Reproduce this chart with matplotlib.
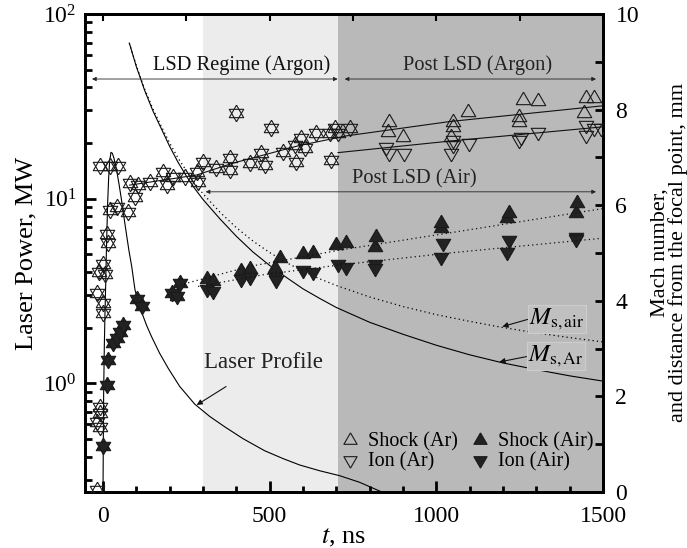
import numpy as np
import matplotlib
matplotlib.use('Agg')
import matplotlib.pyplot as plt
from matplotlib.ticker import LogLocator, MultipleLocator, LogFormatterMathtext, NullFormatter
from matplotlib.lines import Line2D

plt.rcParams['font.family'] = ['Liberation Serif', 'DejaVu Serif']
plt.rcParams['mathtext.fontset'] = 'stix'

# ---------------- data ----------------
# laser profile (left axis, MW)
laser_t = [0, 1, 2, 4, 6, 8, 10, 12, 14, 17, 20, 24, 28, 33, 41, 48, 56, 63, 71, 78, 86, 96, 106, 116,
           131, 146, 170, 196, 230, 275, 320, 365, 420, 485, 540, 590, 650, 710, 770, 830, 880]
laser_p = [0.25, 0.5, 0.9, 1.6, 2.4, 3.4, 5.0, 7.0, 9.5, 13.0, 16.0, 17.8, 17.6, 16.5, 14.2, 12.0, 9.7,
           7.9, 6.3, 5.2, 4.3, 3.2, 2.75, 2.42, 2.05, 1.78, 1.45, 1.2, 0.96, 0.77, 0.66, 0.58, 0.5,
           0.43, 0.39, 0.36, 0.335, 0.315, 0.29, 0.26, 0.24]

# Mach number curves (right axis)
mach_ar_t = [79, 100, 125, 150, 175, 200, 225, 250, 275, 300, 350, 400, 450, 500, 550, 600, 650, 700,
             800, 900, 1000, 1100, 1200, 1300, 1400, 1500]
mach_ar = [9.39, 8.90, 8.40, 7.97, 7.60, 7.23, 6.90, 6.61, 6.35, 6.12, 5.72, 5.35, 5.02, 4.74, 4.49,
           4.25, 4.05, 3.86, 3.55, 3.30, 3.07, 2.87, 2.70, 2.56, 2.43, 2.32]
mach_air_t = [79, 100, 125, 150, 175, 200, 225, 250, 275, 300, 350, 400, 450, 500, 550, 600, 650, 700,
              800, 900, 1000, 1100, 1200, 1300, 1400, 1500]
mach_air = [9.39, 8.92, 8.43, 8.01, 7.65, 7.30, 6.99, 6.72, 6.46, 6.24, 5.86, 5.53, 5.25, 5.01, 4.80,
            4.62, 4.46, 4.32, 4.08, 3.88, 3.71, 3.57, 3.44, 3.33, 3.23, 3.14]

# Argon, LSD regime: shock and ion front coincide (mm)
lsd_ar_t = [-19, -9, -19, -9, -9, 1, 1, -19, -12, 6, 1, 11, 16, 21, 41, -9, 20, 44, 76, 81, 96, 106,
            141, 181, 191, 211, 246, 281, 286, 300, 340, 380, 380, 400, 440, 475, 485, 505, 540, 575,
            580, 595, 605, 640, 680, 685, 695, 705, 740]
lsd_ar_x = [0.04, 1.37, 1.47, 1.65, 1.78, 3.74, 3.95, 4.16, 4.60, 4.57, 4.78, 5.40, 5.20, 5.90, 5.97,
            6.81, 6.81, 6.81, 5.86, 6.46, 6.18, 6.42, 6.49, 6.70, 6.42, 6.60, 6.60, 6.70, 6.49, 6.91,
            6.77, 6.98, 6.74, 7.92, 6.88, 7.09, 6.84, 7.61, 7.12, 7.26, 6.91, 7.40, 7.19, 7.50, 7.50,
            6.95, 7.61, 7.50, 7.61]

# Argon, post LSD
shock_ar_t = [854, 859, 899, 1044, 1049, 1049, 1094, 1249, 1249, 1259, 1304, 1443, 1448, 1473]
shock_ar_x = [7.54, 7.75, 7.43, 7.43, 7.64, 7.75, 7.96, 7.75, 7.85, 8.20, 8.17, 7.92, 8.24, 8.24]
ion_ar_t = [849, 859, 904, 1044, 1049, 1049, 1099, 1249, 1254, 1304, 1448, 1448, 1473, 1495]
ion_ar_x = [7.22, 7.09, 7.09, 7.09, 7.26, 7.36, 7.30, 7.36, 7.43, 7.54, 7.68, 7.47, 7.61, 7.61]

# Air, LSD regime: shock and ion front coincide
lsd_air_t = [1, 11, 16, 31, 41, 51, 61, 103, 118, 206, 221, 231]
lsd_air_x = [0.96, 2.23, 2.76, 3.11, 3.22, 3.35, 3.49, 4.04, 3.90, 4.16, 4.09, 4.37]

# Air, post LSD
shock_air_t = [311, 330, 415, 440, 515, 530, 600, 630, 700, 730, 815, 820, 1014, 1014, 1213, 1218, 1418, 1423]
shock_air_x = [4.45, 4.42, 4.62, 4.66, 4.68, 4.90, 4.98, 4.99, 5.17, 5.20, 5.13, 5.34, 5.52, 5.62, 5.73, 5.83, 5.83, 6.04]
ion_air_t = [311, 330, 415, 440, 515, 520, 600, 630, 705, 730, 815, 815, 1014, 1019, 1213, 1218, 1418, 1420]
ion_air_x = [4.25, 4.20, 4.45, 4.50, 4.50, 4.43, 4.64, 4.61, 4.78, 4.71, 4.78, 4.68, 4.92, 5.20, 5.03, 5.27, 5.34, 5.30]

# fitted trend lines
fit_shock_ar_t = [80, 280, 390, 590, 730, 1040, 1500]
fit_shock_ar_x = [6.42, 6.63, 6.88, 7.25, 7.45, 7.75, 8.08]
fit_ion_ar_t = [705, 1039, 1500]
fit_ion_ar_x = [7.10, 7.34, 7.64]
fit_shock_air_t = [230, 440, 710, 1039, 1500]
fit_shock_air_x = [4.33, 4.72, 5.06, 5.42, 5.93]
fit_ion_air_t = [285, 485, 710, 1039, 1500]
fit_ion_air_x = [4.30, 4.55, 4.75, 5.00, 5.31]

# ---------------- figure ----------------
fig = plt.figure(figsize=(6.87, 5.48), dpi=100)
ax = fig.add_axes([85/687, 1-492/548, (603-85)/687, (492-14)/548])
ax2 = ax.twinx()

light = '#ececec'
dark = '#b9b9b9'
ax.axvspan(300, 705, color=light, lw=0, zorder=0)
ax.axvspan(705, 1500, color=dark, lw=0, zorder=0)

ax.set_xlim(-54, 1500)
ax.set_yscale('log')
ax.set_ylim(0.257, 100)
ax2.set_ylim(0, 10)

ax.plot(laser_t, laser_p, color='black', lw=0.8, zorder=3)

# custom centroid-centred triangles -> hexagram when overlaid
up_tri = [(0, 1), (-0.866, -0.5), (0.866, -0.5), (0, 1)]
dn_tri = [(0, -1), (-0.866, 0.5), (0.866, 0.5), (0, -1)]
ms = 12
ec = '#1a1a1a'
fill = '#222222'

def pts(t, x, marker, filled):
    ax2.plot(t, x, ls='none', marker=marker, ms=ms, mew=0.8,
             mec=ec, mfc=(fill if filled else 'none'), zorder=4)

pts(lsd_ar_t, lsd_ar_x, up_tri, False)
pts(lsd_ar_t, lsd_ar_x, dn_tri, False)
pts(shock_ar_t, shock_ar_x, up_tri, False)
pts(ion_ar_t, ion_ar_x, dn_tri, False)
pts(lsd_air_t, lsd_air_x, up_tri, True)
pts(lsd_air_t, lsd_air_x, dn_tri, True)
pts(shock_air_t, shock_air_x, up_tri, True)
pts(ion_air_t, ion_air_x, dn_tri, True)

ax2.plot(fit_shock_ar_t, fit_shock_ar_x, color='#111', lw=0.8, zorder=5)
ax2.plot(fit_ion_ar_t, fit_ion_ar_x, color='#111', lw=0.8, zorder=5)
ax2.plot(fit_shock_air_t, fit_shock_air_x, color='#111', lw=0.9, ls=(0, (1, 2.5)), zorder=5)
ax2.plot(fit_ion_air_t, fit_ion_air_x, color='#111', lw=0.9, ls=(0, (1, 2.5)), zorder=5)

ax2.plot(mach_ar_t, mach_ar, color='black', lw=0.8, zorder=3)
ax2.plot(mach_air_t, mach_air, color='black', lw=0.9, ls=(0, (1, 2.5)), zorder=3)

# regime arrows and labels
arr = dict(arrowstyle='<|-|>', lw=0.6, color='#222', mutation_scale=6, shrinkA=0, shrinkB=0)
ax2.annotate('', xy=(-33, 8.64), xytext=(704, 8.64), arrowprops=arr)
ax2.annotate('', xy=(725, 8.64), xytext=(1479, 8.64), arrowprops=arr)
ax2.annotate('', xy=(308, 6.28), xytext=(1479, 6.28), arrowprops=arr)
ax2.text(416, 8.93, 'LSD Regime (Argon)', fontsize=14.7, ha='center', va='center', color='#111')
ax2.text(1123, 8.93, 'Post LSD (Argon)', fontsize=14.7, ha='center', va='center', color='#222')
ax2.text(934, 6.55, 'Post LSD (Air)', fontsize=14.7, ha='center', va='center', color='#222')

ax2.annotate('Laser Profile', xy=(281, 1.82), xytext=(482, 2.70), fontsize=16.5,
             ha='center', va='center', color='#222',
             arrowprops=dict(arrowstyle='-|>', lw=0.8, color='#111', mutation_scale=8,
                             shrinkA=14, shrinkB=0))

box = dict(boxstyle='square,pad=0.05', fc='#c0c0c0', ec='#cdcdcd', lw=0.8)
ax2.annotate(r'$M_{\mathrm{s,air}}$', xy=(1198, 3.46), xytext=(1362, 3.62), fontsize=18,
             ha='center', va='center', bbox=box,
             arrowprops=dict(arrowstyle='-|>', lw=0.8, color='#111', mutation_scale=8,
                             shrinkA=0, shrinkB=0, relpos=(0, 0.5)))
ax2.annotate(r'$M_{\mathrm{s,Ar}}$', xy=(1189, 2.72), xytext=(1359, 2.84), fontsize=18,
             ha='center', va='center', bbox=box,
             arrowprops=dict(arrowstyle='-|>', lw=0.8, color='#111', mutation_scale=8,
                             shrinkA=0, shrinkB=0, relpos=(0, 0.5)))

# legend
h = [Line2D([], [], ls='none', marker=up_tri, ms=11, mew=0.8, mec=ec, mfc='none'),
     Line2D([], [], ls='none', marker=dn_tri, ms=11, mew=0.8, mec=ec, mfc='none'),
     Line2D([], [], ls='none', marker=up_tri, ms=11, mew=0.8, mec=ec, mfc=fill),
     Line2D([], [], ls='none', marker=dn_tri, ms=11, mew=0.8, mec=ec, mfc=fill)]
leg = ax2.legend(h, ['Shock (Ar)', 'Ion (Ar)', 'Shock (Air)', 'Ion (Air)'], ncol=2,
                 loc='lower right', bbox_to_anchor=(606/687, 1-484/548),
                 bbox_transform=fig.transFigure, frameon=False, fontsize=14.5,
                 handlelength=1.0, handletextpad=0.4, columnspacing=0.6, labelspacing=0.05,
                 borderpad=0.1)

# ticks / spines
for a in (ax, ax2):
    for s in a.spines.values():
        s.set_linewidth(2.0)
ax.set_xticks([0, 500, 1000, 1500])
ax.xaxis.set_minor_locator(MultipleLocator(100))
ax.yaxis.set_major_locator(LogLocator(base=10, numticks=10))
ax.yaxis.set_minor_locator(LogLocator(base=10, subs=np.arange(2, 10), numticks=10))
ax.yaxis.set_major_formatter(LogFormatterMathtext())
ax.yaxis.set_minor_formatter(NullFormatter())
ax.tick_params(which='both', direction='in', top=False, right=False, labelsize=17, width=2)
ax.tick_params(which='major', length=8, pad=6)
ax.tick_params(which='minor', length=5)
ax.tick_params(axis='x', which='minor', length=4)
ax.tick_params(axis='x', which='major', pad=10)

ax2.yaxis.set_major_locator(MultipleLocator(2))
ax2.yaxis.set_minor_locator(MultipleLocator(1))
ax2.tick_params(which='both', direction='in', labelsize=17, width=2, length=6, pad=9)

sec = ax.secondary_xaxis('top')
sec.set_xticks(np.arange(0, 1501, 250))
sec.tick_params(direction='in', length=5, width=1.5, labeltop=False)
sec.spines['top'].set_linewidth(2.0)

ax.set_xlabel(r'$t$, ns', fontsize=19, labelpad=0)
ax.set_ylabel('Laser Power, MW', fontsize=19, labelpad=4)
ax2.set_ylabel('Mach number,\nand distance from the focal point, mm', fontsize=16,
               linespacing=0.9, labelpad=8)

fig.savefig('out.png', dpi=100)
